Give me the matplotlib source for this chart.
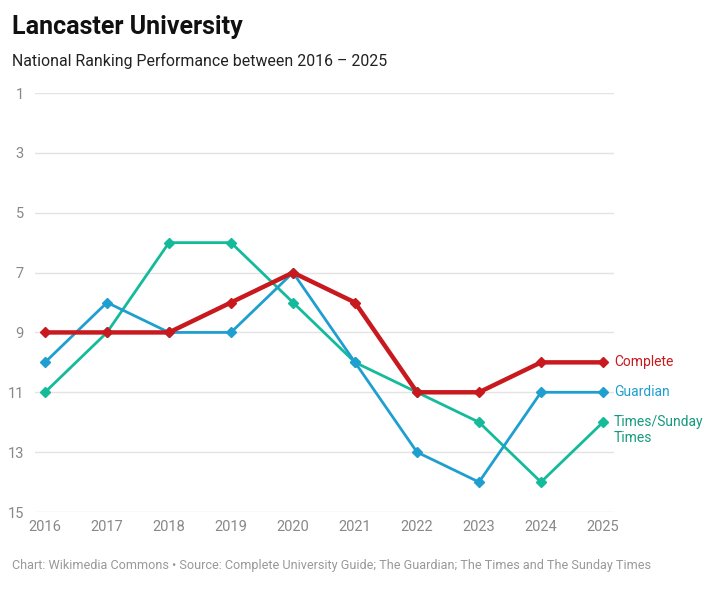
import matplotlib.pyplot as plt
from matplotlib.ticker import FixedLocator

plt.rcParams['font.family'] = ['Roboto', 'DejaVu Sans']

years = [2016, 2017, 2018, 2019, 2020, 2021, 2022, 2023, 2024, 2025]
complete = [9, 9, 9, 8, 7, 8, 11, 11, 10, 10]
guardian = [10, 8, 9, 9, 7, 10, 13, 14, 11, 11]
times = [11, 9, 6, 6, 8, 10, 11, 12, 14, 12]
y_ticks = [1, 3, 5, 7, 9, 11, 13, 15]

fig = plt.figure(figsize=(7.15, 6), dpi=100)
W, H = 715, 600
ax = fig.add_axes([35 / W, 1 - 512 / H, (614 - 35) / W, (512 - 93) / H])

# green first, then blue, red on top
ax.plot(years, times, color='#14bb9b', lw=2.0, marker='D', ms=5.5, zorder=3)
ax.plot(years, guardian, color='#1f9fd0', lw=2.0, marker='D', ms=5.5, zorder=4)
ax.plot(years, complete, color='#c8191e', lw=3.2, marker='D', ms=5.5, zorder=5)

ax.set_xlim(2016 - 10 / 62, 2025 + 11 / 62)
ax.set_ylim(15, 1)
ax.set_xticks(years)
ax.yaxis.set_major_locator(FixedLocator(y_ticks))
ax.grid(axis='y', color='#e3e3e3', lw=1)
ax.set_axisbelow(True)
for s in ax.spines.values():
    s.set_visible(False)
ax.tick_params(axis='both', length=0, colors='#888888', labelsize=10.5)
ax.tick_params(axis='x', pad=6)
ax.tick_params(axis='y', pad=8)

# end labels
ax.annotate('Complete', (years[-1], complete[-1]), xytext=(8, 0), textcoords='offset points',
            color='#c8191e', fontsize=10, va='center')
ax.annotate('Guardian', (years[-1], guardian[-1]), xytext=(8, 0), textcoords='offset points',
            color='#1f9fd0', fontsize=10, va='center')
ax.annotate('Times/Sunday\nTimes', (years[-1], times[-1]), xytext=(8, 5), textcoords='offset points',
            color='#139a80', fontsize=10, va='top', linespacing=1.15)

fig.text(12 / W, 1 - 27 / H, 'Lancaster University', fontsize=18, fontweight='bold',
         color='#111111', va='center')
fig.text(12 / W, 1 - 61 / H, 'National Ranking Performance between 2016 \u2013 2025', fontsize=11.4,
         color='#222222', va='center')
fig.text(12 / W, 1 - 566 / H,
         'Chart: Wikimedia Commons \u2022 Source: Complete University Guide; The Guardian; '
         'The Times and The Sunday Times',
         fontsize=9.1, color='#999999', va='center')

fig.savefig('out.png', dpi=100, facecolor='white')
